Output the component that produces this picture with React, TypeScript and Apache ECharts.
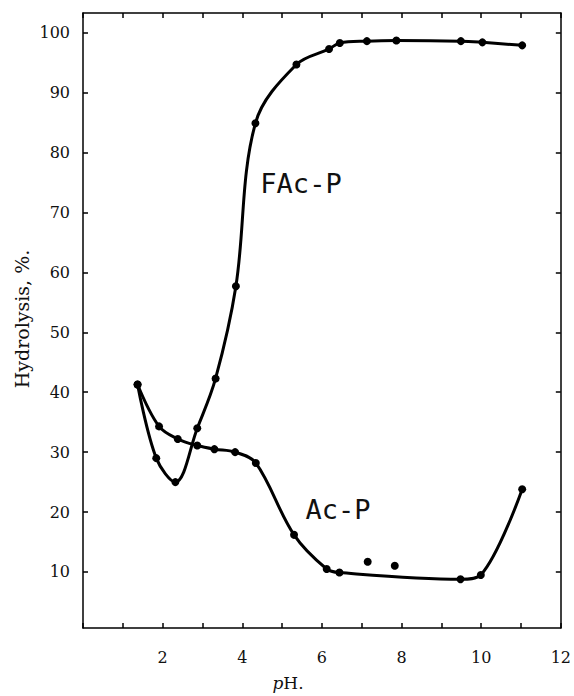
import React, { useEffect, useRef } from "react";
import * as echarts from "echarts";

// pH values and hydrolysis (%)
const facpPH = [1.37, 1.84, 2.32, 2.87, 3.33, 3.84, 4.33, 5.36, 6.18, 6.45, 7.13, 7.87, 9.49, 10.03, 11.03];
const facpHyd = [41.3, 29.0, 25.0, 34.0, 42.3, 57.7, 84.9, 94.7, 97.3, 98.3, 98.6, 98.7, 98.6, 98.4, 97.9];

const acpPH = [1.37, 1.91, 2.38, 2.87, 3.3, 3.82, 4.34, 5.3, 6.12, 6.44, 9.48, 9.99, 11.03];
const acpHyd = [41.3, 34.3, 32.2, 31.1, 30.5, 30.0, 28.2, 16.2, 10.5, 9.9, 8.8, 9.5, 23.8];

const strayPH = [7.15, 7.83];
const strayHyd = [11.7, 11.05];

const yTicks = [10, 20, 30, 40, 50, 60, 70, 80, 90, 100];
const xLabelValues = [2, 4, 6, 8, 10, 12];

const zip = (xs: number[], ys: number[]) => xs.map((x, i) => [x, ys[i]]);

export default function App() {
  const ref = useRef<HTMLDivElement>(null);
  useEffect(() => {
    if (!ref.current) return;
    const chart = echarts.init(ref.current, null, { renderer: "svg" });
    const axisLine = { show: true, onZero: false, lineStyle: { color: "#000", width: 1.5 } };
    const tick = { show: true, inside: true, length: 5, lineStyle: { color: "#000", width: 1.5 } };
    const labelFont = { fontFamily: "DejaVu Serif", fontSize: 16, color: "#111" };
    chart.setOption({
      animation: false,
      backgroundColor: "#fff",
      grid: { left: 83, right: 11, top: 13, bottom: 68, containLabel: false },
      xAxis: [
        {
          type: "value",
          position: "bottom",
          min: 0,
          max: 12,
          interval: 1,
          axisLine,
          axisTick: tick,
          splitLine: { show: false },
          axisLabel: {
            ...labelFont,
            margin: 21,
            formatter: (v: number) => (xLabelValues.includes(v) ? String(v) : ""),
          },
        },
        {
          type: "value",
          position: "top",
          min: 0,
          max: 12,
          interval: 1,
          axisLine,
          axisTick: tick,
          splitLine: { show: false },
          axisLabel: { show: false },
        },
      ],
      yAxis: [
        {
          type: "value",
          position: "left",
          min: 0.65,
          max: 103.3,
          axisLine,
          axisTick: { ...tick, customValues: yTicks },
          splitLine: { show: false },
          axisLabel: { ...labelFont, margin: 13, customValues: yTicks },
        },
        {
          type: "value",
          position: "right",
          min: 0.65,
          max: 103.3,
          axisLine,
          axisTick: { ...tick, customValues: yTicks },
          splitLine: { show: false },
          axisLabel: { show: false },
        },
      ],
      graphic: [
        {
          type: "text",
          x: 22,
          y: 319,
          rotation: Math.PI / 2,
          style: {
            text: "Hydrolysis, %.",
            fontFamily: "DejaVu Serif",
            fontSize: 19,
            fill: "#111",
            textAlign: "center",
            textVerticalAlign: "middle",
          },
        },
        {
          type: "text",
          x: 288,
          y: 683,
          style: {
            text: "{i|p}{n|H.}",
            textAlign: "center",
            textVerticalAlign: "middle",
            fill: "#111",
            rich: {
              i: { fontFamily: "DejaVu Serif", fontStyle: "italic", fontSize: 17, fill: "#111" },
              n: { fontFamily: "DejaVu Serif", fontSize: 17, fill: "#111" },
            },
          },
        },
        {
          type: "text",
          x: 301,
          y: 183,
          style: {
            text: "FAc-P",
            fontFamily: "DejaVu Sans Mono",
            fontSize: 27,
            fill: "#111",
            textAlign: "center",
            textVerticalAlign: "middle",
          },
        },
        {
          type: "text",
          x: 338,
          y: 509,
          style: {
            text: "Ac-P",
            fontFamily: "DejaVu Sans Mono",
            fontSize: 27,
            fill: "#111",
            textAlign: "center",
            textVerticalAlign: "middle",
          },
        },
      ],
      series: [
        {
          name: "FAc-P",
          type: "line",
          xAxisIndex: 0,
          yAxisIndex: 0,
          data: zip(facpPH, facpHyd),
          smooth: 0.35,
          symbol: "circle",
          symbolSize: 8,
          lineStyle: { color: "#000", width: 3 },
          itemStyle: { color: "#000" },
        },
        {
          name: "Ac-P",
          type: "line",
          xAxisIndex: 0,
          yAxisIndex: 0,
          data: zip(acpPH, acpHyd),
          smooth: 0.35,
          symbol: "circle",
          symbolSize: 8,
          lineStyle: { color: "#000", width: 3 },
          itemStyle: { color: "#000" },
        },
        {
          name: "Ac-P (stray)",
          type: "scatter",
          xAxisIndex: 0,
          yAxisIndex: 0,
          data: zip(strayPH, strayHyd),
          symbol: "circle",
          symbolSize: 8,
          itemStyle: { color: "#000", opacity: 1 },
        },
      ],
    });
    return () => chart.dispose();
  }, []);
  return (
    <div
      ref={ref}
      style={{ position: "fixed", left: 0, top: 0, width: 574, height: 696, background: "#fff" }}
    />
  );
}
